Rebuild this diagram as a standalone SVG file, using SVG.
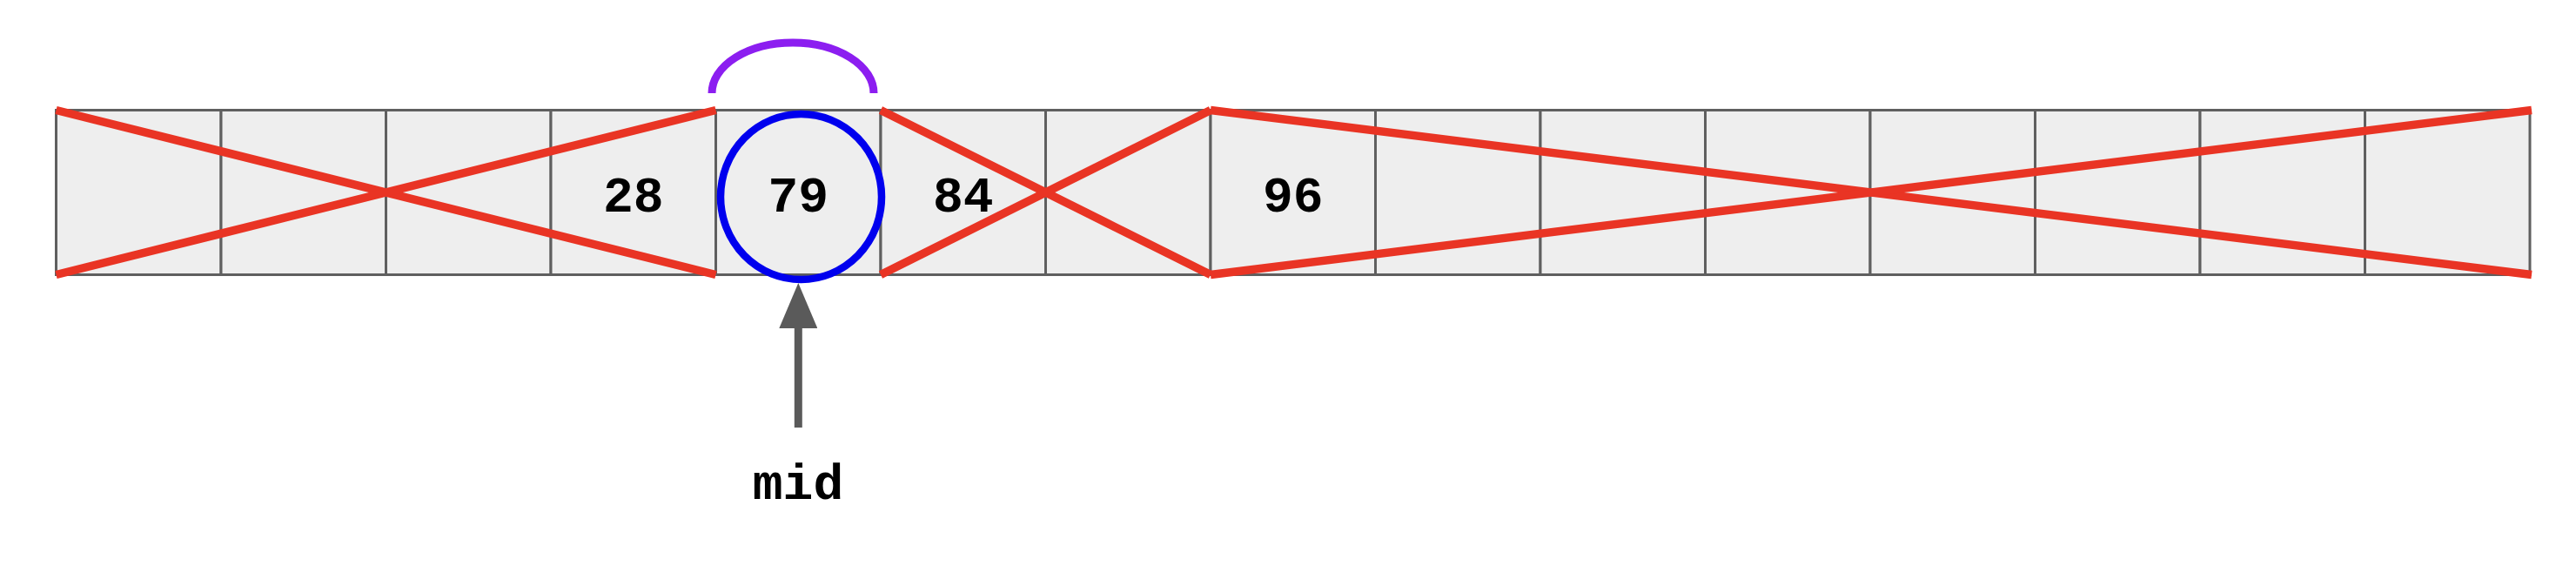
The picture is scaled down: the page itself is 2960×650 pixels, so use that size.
<svg xmlns="http://www.w3.org/2000/svg" width="2960" height="650" viewBox="0 0 2960 650">
<style>
.cell{fill:#eeeeee;stroke:#5f5f5f;stroke-width:3}
.x{stroke:#e93424;stroke-width:9.5;fill:none}
.v{font-family:"Liberation Mono","DejaVu Sans Mono",monospace;font-weight:bold;font-size:58px;fill:#000;text-anchor:middle}
.lbl{font-family:"Liberation Mono","DejaVu Sans Mono",monospace;font-weight:bold;font-size:58px;fill:#000;text-anchor:middle}
</style>
<defs>
<marker id="ah" markerWidth="52" markerHeight="44" refX="0" refY="22" viewBox="0 0 52 44" orient="auto" markerUnits="userSpaceOnUse">
<path d="M0 0 L52 22 L0 44 Z" fill="#5a5a5a"/>
</marker>
</defs>
<rect width="2960" height="650" fill="#ffffff"/>
<g id="array">
<rect id="cell0" class="cell" x="64.5" y="126.5" width="189.5" height="189"/>
<rect id="cell1" class="cell" x="254" y="126.5" width="189.5" height="189"/>
<rect id="cell2" class="cell" x="443.5" y="126.5" width="189.5" height="189"/>
<rect id="cell3" class="cell" x="633" y="126.5" width="189.5" height="189"/>
<rect id="cell4" class="cell" x="822.5" y="126.5" width="189.5" height="189"/>
<rect id="cell5" class="cell" x="1012" y="126.5" width="189.5" height="189"/>
<rect id="cell6" class="cell" x="1201.5" y="126.5" width="189.5" height="189"/>
<rect id="cell7" class="cell" x="1391" y="126.5" width="189.5" height="189"/>
<rect id="cell8" class="cell" x="1580.5" y="126.5" width="189.5" height="189"/>
<rect id="cell9" class="cell" x="1770" y="126.5" width="189.5" height="189"/>
<rect id="cell10" class="cell" x="1959.5" y="126.5" width="189.5" height="189"/>
<rect id="cell11" class="cell" x="2149" y="126.5" width="189.5" height="189"/>
<rect id="cell12" class="cell" x="2338.5" y="126.5" width="189.5" height="189"/>
<rect id="cell13" class="cell" x="2528" y="126.5" width="189.5" height="189"/>
<rect id="cell14" class="cell" x="2717.5" y="126.5" width="189.5" height="189"/>
</g>
<g id="crosses">
<line class="x" x1="64.5" y1="126.5" x2="822.5" y2="315.5"/>
<line class="x" x1="64.5" y1="315.5" x2="822.5" y2="126.5"/>
<line class="x" x1="1012" y1="126.5" x2="1391" y2="315.5"/>
<line class="x" x1="1012" y1="315.5" x2="1391" y2="126.5"/>
<line class="x" x1="1391" y1="126.5" x2="2909" y2="315.5"/>
<line class="x" x1="1391" y1="315.5" x2="2909" y2="126.5"/>
</g>
<g id="values">
<text class="v" x="727.7" y="243">28</text>
<text class="v" x="917.2" y="243">79</text>
<text class="v" x="1106.7" y="243">84</text>
<text class="v" x="1485.7" y="243">96</text>
</g>
<g id="highlight">
<ellipse cx="920.5" cy="226" rx="92.5" ry="95" fill="none" stroke="#0000ee" stroke-width="8.5"/>
</g>
<g id="connectors">
<path id="arc" d="M818 107 A93 58 0 0 1 1004 107" fill="none" stroke="#8c1ef0" stroke-width="9"/>
<line id="mid-arrow" x1="917.3" y1="491" x2="917.3" y2="377" stroke="#5a5a5a" stroke-width="9" marker-end="url(#ah)"/>
</g>
<g id="mid-label">
<text class="lbl" x="917" y="573">mid</text>
</g>
</svg>
